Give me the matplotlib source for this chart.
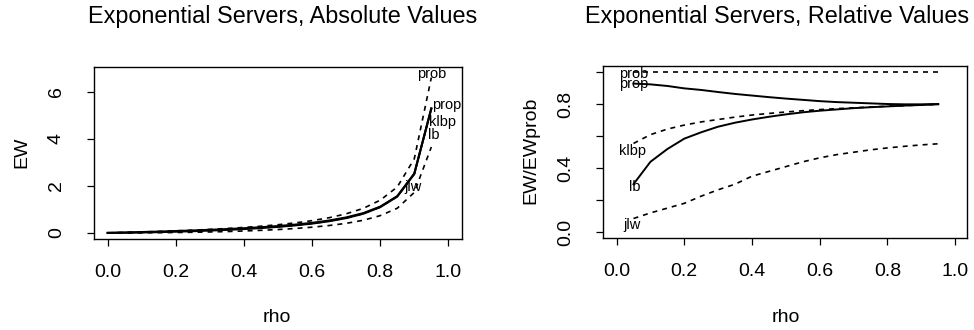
import numpy as np
import matplotlib
matplotlib.use("Agg")
import matplotlib.pyplot as plt

plt.rcParams['font.family'] = ['Liberation Sans', 'DejaVu Sans']

# ---- data ----
rho = [0.05, 0.10, 0.15, 0.20, 0.25, 0.30, 0.35, 0.40, 0.45, 0.50,
       0.55, 0.60, 0.65, 0.70, 0.75, 0.80, 0.85, 0.90, 0.95]
# absolute EW of the "prob" method (left panel), rho = 0.05 .. 0.95
ew_prob = [0.018, 0.038, 0.061, 0.087, 0.115, 0.149, 0.187, 0.231, 0.284, 0.347,
           0.424, 0.52, 0.645, 0.81, 1.04, 1.39, 1.95, 3.15, 6.6]
# relative values EW / EWprob (right panel)
rel_prob = [1.0] * 19
rel_prop = [0.93, 0.925, 0.915, 0.90, 0.89, 0.877, 0.865, 0.855, 0.845, 0.836,
            0.828, 0.82, 0.814, 0.81, 0.806, 0.802, 0.80, 0.80, 0.802]
rel_klbp = [0.555, 0.61, 0.645, 0.67, 0.69, 0.705, 0.72, 0.733, 0.743, 0.752,
            0.76, 0.767, 0.773, 0.778, 0.783, 0.788, 0.792, 0.796, 0.80]
rel_lb = [0.30, 0.44, 0.52, 0.585, 0.625, 0.66, 0.685, 0.705, 0.722, 0.737,
          0.75, 0.76, 0.768, 0.776, 0.782, 0.787, 0.792, 0.796, 0.80]
rel_jlw = [0.085, 0.12, 0.15, 0.18, 0.225, 0.265, 0.30, 0.35, 0.38, 0.41,
           0.44, 0.465, 0.485, 0.50, 0.515, 0.527, 0.537, 0.546, 0.553]
methods = ["prob", "prop", "klbp", "lb", "jlw"]
styles = {"prob": "dash", "prop": "solid", "klbp": "dash", "lb": "solid", "jlw": "dash"}
rel = {"prob": rel_prob, "prop": rel_prop, "klbp": rel_klbp, "lb": rel_lb, "jlw": rel_jlw}

# label anchor positions (data coords)
lab_abs = {"prob": (0.95, 6.75), "prop": (0.996, 5.43), "klbp": (0.983, 4.72),
           "lb": (0.956, 4.17), "jlw": (0.897, 1.97)}
lab_rel = {"prob": (0.05, 0.99), "prop": (0.05, 0.925), "klbp": (0.047, 0.508),
           "lb": (0.053, 0.284), "jlw": (0.047, 0.044)}

W, H = 974, 330
fig = plt.figure(figsize=(W / 100, H / 100), dpi=100)

def ax_rect(l, r, t, b):
    return [l / W, (H - b) / H, (r - l) / W, (b - t) / H]

axL = fig.add_axes(ax_rect(94, 462, 67, 239))
axR = fig.add_axes(ax_rect(603, 967, 66, 238))

def ls(kind):
    return (0, (3, 3)) if kind == "dash" else "-"

rho_abs = np.concatenate([[0.0], rho])
for m in methods:
    y = np.concatenate([[0.0], np.array(rel[m]) * np.array(ew_prob)])
    axL.plot(rho_abs, y, color="black", lw=1.5 if styles[m] == "solid" else 1.2,
             linestyle=ls(styles[m]))
    axL.text(*lab_abs[m], m, ha="center", va="center", fontsize=10.5)
    axR.plot(rho, rel[m], color="black", lw=1.4 if styles[m] == "solid" else 1.2,
             linestyle=ls(styles[m]))
    axR.text(*lab_rel[m], m, ha="center", va="center", fontsize=10.5)

axL.set_xlim(-0.04, 1.04)
axL.set_ylim(-0.26, 7.05)
axR.set_xlim(-0.04, 1.035)
axR.set_ylim(-0.037, 1.04)

xt = [0.0, 0.2, 0.4, 0.6, 0.8, 1.0]
for ax in (axL, axR):
    ax.set_xticks(xt)
    ax.set_xticklabels([f"{v:.1f}" for v in xt])
    for s in ax.spines.values():
        s.set_linewidth(1.0)
    ax.tick_params(axis="both", direction="out", length=5, width=0.9, labelsize=14)
    ax.tick_params(axis="x", pad=13)
    ax.tick_params(axis="y", pad=16)

axL.set_yticks([0, 2, 4, 6])
axL.set_yticklabels(["0", "2", "4", "6"], rotation=90, va="center")
yr = [0.0, 0.2, 0.4, 0.6, 0.8, 1.0]
axR.set_yticks(yr)
axR.set_yticklabels(["0.0", "", "0.4", "", "0.8", ""], rotation=90, va="center")

fig.text(282.5 / W, 1 - 16 / H, "Exponential Servers, Absolute Values",
         ha="center", va="center", fontsize=16.8)
fig.text(777 / W, 1 - 16 / H, "Exponential Servers, Relative Values",
         ha="center", va="center", fontsize=16.8)
fig.text(277 / W, 1 - 318 / H, "rho", ha="center", va="center", fontsize=14)
fig.text(786 / W, 1 - 318 / H, "rho", ha="center", va="center", fontsize=14)
fig.text(22 / W, 1 - 152 / H, "EW", ha="center", va="center", fontsize=14, rotation=90)
fig.text(531 / W, 1 - 150 / H, "EW/EWprob", ha="center", va="center", fontsize=14, rotation=90)

fig.savefig("out.png", dpi=100)
